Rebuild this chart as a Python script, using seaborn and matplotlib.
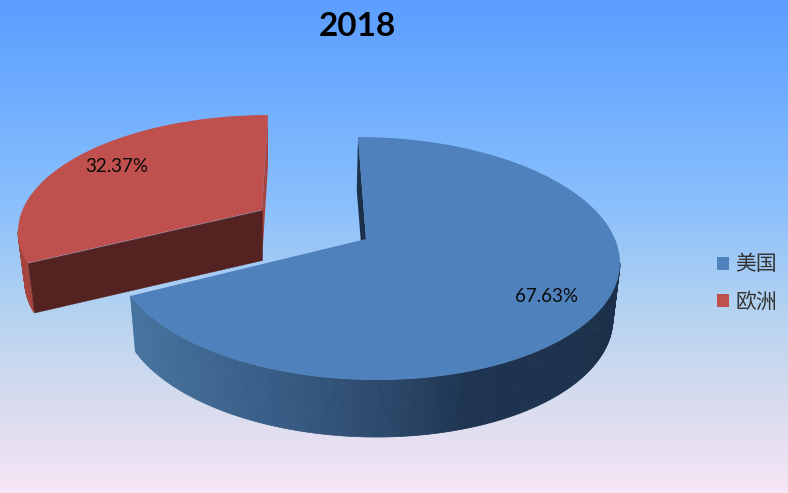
import numpy as np
import matplotlib
matplotlib.use("Agg")
import matplotlib.pyplot as plt
from matplotlib.collections import PolyCollection
from matplotlib.colors import LinearSegmentedColormap, to_rgb
from matplotlib.path import Path
from matplotlib.transforms import Transform
import seaborn as sns

# ---- data
title = "2018"
regions = ["美国", "欧洲"]
shares = [67.63, 32.37]
face_colors = ["#4F81BD", "#C0504D"]

# ---- style
bg_stops = [(0.0, "#5c9dff"), (0.2, "#70aeff"), (0.42, "#8bc0fc"), (0.62, "#b2d2f1"),
            (0.82, "#d8dcee"), (1.0, "#f6e5f6")]
blue_rim_x = [130, 200, 300, 400, 470, 620]
blue_rim_c = ["#46739f", "#3f6892", "#355880", "#2a4566", "#1d3350", "#1c3049"]
red_rim = "#a6453f"
red_cut = "#542220"
K = 0.1605
# (A, B, D, Cx, Cy) of the perspective mapping for each plane
blue_top = (249.0, 49.5, -80.0, 366.0, 239.0)
blue_bot = (243.0, 49.0, -73.2, 365.0, 293.7)
red_top = (239.6, 49.0, -76.5, 262.0, 210.0)
red_bot = (233.0, 49.0, -67.4, 262.0, 260.0)


def project(u, v, p):
    A, B, D, Cx, Cy = p
    w = 1 + K * v
    return (A * u + B * v + Cx) / w, (D * v + Cy) / w


class Tilt(Transform):
    """Perspective view of the pie's plane."""
    input_dims = output_dims = 2
    is_affine = False
    has_inverse = False

    def __init__(self, p):
        super().__init__()
        self.p = p

    def transform_non_affine(self, values):
        values = np.asarray(values, float)
        x, y = project(values[:, 0], values[:, 1], self.p)
        return np.column_stack([x, y])

    def transform_path_non_affine(self, path):
        return Path(self.transform_non_affine(path.vertices), path.codes)


def rim(theta, p):
    t = np.radians(theta)
    return project(np.cos(t), np.sin(t), p)


sns.set_theme(style="white")
plt.rcParams["font.family"] = ["Lato", "Noto Sans CJK SC", "DejaVu Sans"]
palette = sns.color_palette(face_colors)

fig = plt.figure(figsize=(7.88, 4.93), dpi=100)
ax = fig.add_axes([0, 0, 1, 1])

wedges, _ = ax.pie(shares, colors=palette, startangle=90, counterclock=False,
                   wedgeprops={"linewidth": 0})
tops = [blue_top, red_top]
for w, p in zip(wedges, tops):
    w.set_transform(Tilt(p) + ax.transData)
    w.set_zorder(3)

# background
cmap = LinearSegmentedColormap.from_list("bg", bg_stops)
ax.imshow(np.linspace(0, 1, 493).reshape(-1, 1), cmap=cmap, aspect="auto",
          extent=(0, 788, 493, 0), zorder=0)

# blue side wall: only the front part, from the slice end to the right-hand tangent
th = np.linspace(wedges[0].theta1, wedges[0].theta2, 400)
th = th[: np.argmax(rim(th, blue_top)[0]) + 1]
polys, cols = [], []
rgb = np.array([to_rgb(c) for c in blue_rim_c])
for a, b in zip(th[:-1], th[1:]):
    pa, pb = rim(a, blue_top), rim(b, blue_top)
    qa, qb = rim(a, blue_bot), rim(b, blue_bot)
    polys.append([pa, pb, qb, qa])
    cols.append([np.interp(pa[0], blue_rim_x, rgb[:, i]) for i in range(3)])
ax.add_collection(PolyCollection(polys, facecolors=cols, edgecolors=cols,
                                 linewidths=0.5, zorder=1))
# blue cut face at the top of the slice
e = wedges[0].theta2
ax.add_collection(PolyCollection(
    [[rim(e, blue_top), rim(e, blue_bot), project(0, 0, blue_bot), project(0, 0, blue_top)]],
    facecolors=["#1c3049"], edgecolors="none", zorder=2))

# red walls: rim from the slice end to the left-hand tangent, plus the two cut faces
e_top, e_front = wedges[1].theta1, wedges[1].theta2
th = np.linspace(e_top, e_front, 200)
th = th[np.argmin(rim(th, red_top)[0]):]
polys = []
for a, b in zip(th[:-1], th[1:]):
    polys.append([rim(a, red_top), rim(b, red_top), rim(b, red_bot), rim(a, red_bot)])
ax.add_collection(PolyCollection(polys, facecolors=red_rim, edgecolors=red_rim,
                                 linewidths=0.5, zorder=1))
ax.add_collection(PolyCollection(
    [[rim(e_top, red_top), rim(e_top, red_bot), project(0, 0, red_bot), project(0, 0, red_top)]],
    facecolors=[red_rim], edgecolors="none", zorder=2))
ax.add_collection(PolyCollection(
    [[rim(e_front, red_top), rim(e_front, red_bot), project(0, 0, red_bot), project(0, 0, red_top)]],
    facecolors=[red_cut], edgecolors=red_cut, linewidths=0.3, zorder=2.5))

ax.set_xlim(0, 788)
ax.set_ylim(493, 0)
ax.set_aspect("auto")
ax.axis("off")

ax.text(357.5, 26.5, title, ha="center", va="center", fontsize=24, fontweight="bold",
        color="black", zorder=6)
ax.text(546.5, 296, f"{shares[0]:.2f}%", ha="center", va="center", fontsize=13.5,
        color="#0a0a0a", zorder=6)
ax.text(116.5, 166, f"{shares[1]:.2f}%", ha="center", va="center", fontsize=13.5,
        color="#0a0a0a", zorder=6)

leg = ax.legend(wedges, regions, loc="center left", bbox_to_anchor=(717 / 788, 1 - 283 / 493),
                frameon=False, fontsize=15, handlelength=0.58, handleheight=0.58,
                handletextpad=0.3, labelspacing=0.82, borderpad=0, borderaxespad=0,
                labelcolor="#333333")
leg.set_zorder(6)
for h, c in zip(leg.legend_handles, palette):
    h.set_facecolor(c)

fig.savefig("out.png", dpi=100)
